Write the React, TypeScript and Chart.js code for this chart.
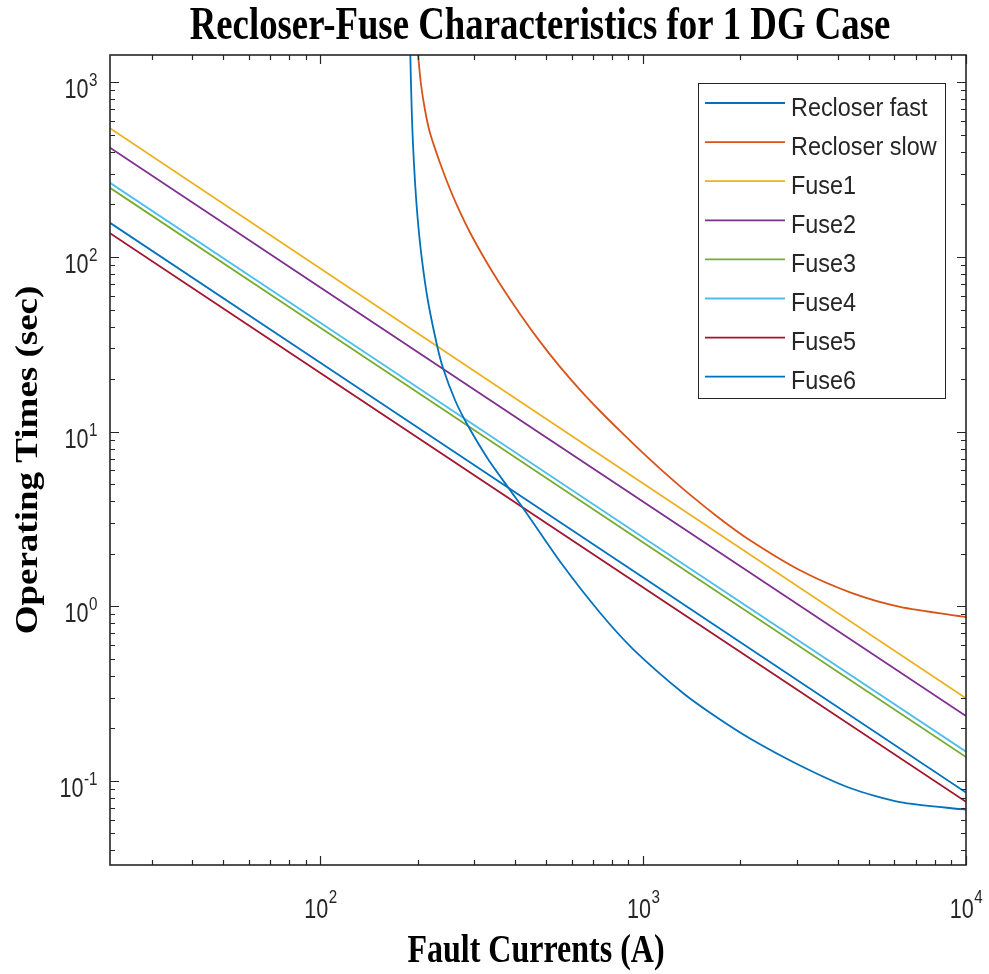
import React, { useEffect, useRef } from "react";
import { Chart, registerables } from "chart.js";

Chart.register(...registerables);

// ---- Data ----
const seriesNames = [
  "Recloser fast",
  "Recloser slow",
  "Fuse1",
  "Fuse2",
  "Fuse3",
  "Fuse4",
  "Fuse5",
  "Fuse6",
];

const seriesColors = [
  "#0072BD",
  "#D95319",
  "#EDB120",
  "#7E2F8E",
  "#77AC30",
  "#4DBEEE",
  "#A2142F",
  "#0072BD",
];

// Fault current (A) and operating time (s)
const recloserFastCurrent = [189.6, 190.9, 192.2, 193.6, 196.4, 200.6, 206.4, 215.4, 229.7, 239.8, 261.2, 284.6, 330.5, 386.7, 424.3, 552.6, 734.9, 929.9, 1328, 1681, 2142, 3060, 4372, 6246, 10000];
const recloserFastTime = [1637, 966.3, 625.4, 443.9, 268.9, 158.7, 96.2, 56.0, 31.35, 23.14, 15.18, 11.06, 6.973, 4.634, 3.654, 1.803, 0.9178, 0.5692, 0.3188, 0.2329, 0.1749, 0.1226, 0.0911, 0.0757, 0.0684];

const recloserSlowCurrent = [200.0, 201.3, 204.9, 210.9, 218.6, 234.8, 252.0, 270.6, 290.7, 323.6, 360.1, 415.3, 479.0, 552.6, 637.3, 734.9, 847.7, 977.4, 1127, 1396, 1730, 2142, 3060, 4372, 6246, 10000];
const recloserSlowTime = [1574, 1361, 979.1, 695.0, 513.2, 345.5, 245.2, 181.1, 138.2, 96.8, 70.09, 47.19, 32.79, 23.51, 17.37, 13.13, 10.09, 7.831, 6.145, 4.356, 3.173, 2.387, 1.607, 1.2025, 0.9933, 0.8684];

const fuseCurrent = [22.3, 100, 1000, 10000];
const fuse1Time = [546, 86, 5.05, 0.297];
const fuse2Time = [423, 67, 3.97, 0.235];
const fuse3Time = [249, 39.3, 2.32, 0.137];
const fuse4Time = [266, 42, 2.48, 0.147];
const fuse5Time = [137, 21.7, 1.28, 0.0759];
const fuse6Time = [157, 24.8, 1.46, 0.0857];

const seriesCurrents = [recloserFastCurrent, recloserSlowCurrent, fuseCurrent, fuseCurrent, fuseCurrent, fuseCurrent, fuseCurrent, fuseCurrent];
const seriesTimes = [recloserFastTime, recloserSlowTime, fuse1Time, fuse2Time, fuse3Time, fuse4Time, fuse5Time, fuse6Time];

// Axis ranges and tick labels
const xMin = 22.3;
const xMax = 10000;
const yMin = 0.033;
const yMax = 1435;
const xTickExponents = ["2", "3", "4"];
const yTickExponents = ["-1", "0", "1", "2", "3"];
const minorMultipliers = [2, 3, 4, 5, 6, 7, 8, 9];

const titleText = "Recloser-Fuse Characteristics for 1 DG Case";
const xTitle = "Fault Currents (A)";
const yTitle = "Operating Times (sec)";

const AXIS_COLOR = "#262626";

function drawScaledText(ctx: CanvasRenderingContext2D, text: string, x: number, y: number, sx: number) {
  ctx.save();
  ctx.translate(x, y);
  ctx.scale(sx, 1);
  ctx.fillText(text, 0, 0);
  ctx.restore();
}

const BASE_FONT = "27px 'Liberation Sans', Arial, sans-serif";
const EXP_FONT = "19px 'Liberation Sans', Arial, sans-serif";
const TICK_SX = 0.8;

function powWidths(ctx: CanvasRenderingContext2D, exp: string) {
  ctx.font = BASE_FONT;
  const bw = ctx.measureText("10").width * TICK_SX;
  ctx.font = EXP_FONT;
  const ew = ctx.measureText(exp).width * TICK_SX;
  return { bw, ew };
}

function drawPow(ctx: CanvasRenderingContext2D, exp: string, startX: number, baseY: number, expY: number) {
  const { bw } = powWidths(ctx, exp);
  ctx.textAlign = "left";
  ctx.textBaseline = "alphabetic";
  ctx.font = BASE_FONT;
  drawScaledText(ctx, "10", startX, baseY, TICK_SX);
  ctx.font = EXP_FONT;
  drawScaledText(ctx, exp, startX + bw + 0.5, expY, TICK_SX);
}

const decorPlugin = {
  id: "matlabDecor",
  afterDatasetsDraw(chart: any) {
    const ctx: CanvasRenderingContext2D = chart.ctx;
    const { left, right, top, bottom } = chart.chartArea;
    const xs = chart.scales.x;
    const ys = chart.scales.y;
    ctx.save();

    // Axes box
    ctx.strokeStyle = AXIS_COLOR;
    ctx.lineWidth = 1.6;
    ctx.strokeRect(left, top, right - left, bottom - top);

    // Ticks (inward, all four sides)
    ctx.lineWidth = 1.2;
    const tickX = (v: number, len: number) => {
      const p = Math.round(xs.getPixelForValue(v)) + 0.5;
      ctx.beginPath();
      ctx.moveTo(p, bottom);
      ctx.lineTo(p, bottom - len);
      ctx.moveTo(p, top);
      ctx.lineTo(p, top + len);
      ctx.stroke();
    };
    const tickY = (v: number, len: number) => {
      const p = Math.round(ys.getPixelForValue(v)) + 0.5;
      ctx.beginPath();
      ctx.moveTo(left, p);
      ctx.lineTo(left + len, p);
      ctx.moveTo(right, p);
      ctx.lineTo(right - len, p);
      ctx.stroke();
    };
    for (let d = Math.floor(Math.log10(xMin)); d <= Math.ceil(Math.log10(xMax)); d++) {
      const base = Math.pow(10, d);
      if (base >= xMin && base <= xMax) tickX(base, 9);
      for (const m of minorMultipliers) {
        const v = m * base;
        if (v > xMin && v < xMax) tickX(v, 5);
      }
    }
    for (let d = Math.floor(Math.log10(yMin)); d <= Math.ceil(Math.log10(yMax)); d++) {
      const base = Math.pow(10, d);
      if (base >= yMin && base <= yMax) tickY(base, 9);
      for (const m of minorMultipliers) {
        const v = m * base;
        if (v > yMin && v < yMax) tickY(v, 5);
      }
    }

    // Tick labels
    ctx.fillStyle = AXIS_COLOR;
    for (const e of xTickExponents) {
      const px = xs.getPixelForValue(Math.pow(10, Number(e)));
      const { bw, ew } = powWidths(ctx, e);
      const start = px - (bw + ew) / 2;
      drawPow(ctx, e, start, bottom + 53, bottom + 38);
    }
    for (const e of yTickExponents) {
      const py = ys.getPixelForValue(Math.pow(10, Number(e)));
      const { bw, ew } = powWidths(ctx, e);
      const start = left - 13 - (bw + ew);
      drawPow(ctx, e, start, py + 16, py + 4);
    }

    // Legend
    const bx = right - 268;
    const by = top + 28;
    const bw = 247;
    const bh = 315;
    ctx.fillStyle = "#ffffff";
    ctx.fillRect(bx, by, bw, bh);
    ctx.strokeStyle = AXIS_COLOR;
    ctx.lineWidth = 1;
    ctx.strokeRect(Math.round(bx) + 0.5, Math.round(by) + 0.5, bw, bh);
    chart.data.datasets.forEach((ds: any, i: number) => {
      const ly = by + 20 + i * 39.1;
      ctx.strokeStyle = ds.borderColor;
      ctx.lineWidth = 1.8;
      ctx.beginPath();
      ctx.moveTo(bx + 7, ly);
      ctx.lineTo(bx + 87, ly);
      ctx.stroke();
      ctx.fillStyle = AXIS_COLOR;
      ctx.font = "26px 'Liberation Sans', Arial, sans-serif";
      ctx.textAlign = "left";
      ctx.textBaseline = "alphabetic";
      drawScaledText(ctx, ds.label, bx + 93, ly + 12.5, 0.9);
    });

    // Title
    ctx.fillStyle = "#000000";
    ctx.font = "bold 46px 'Liberation Serif', 'Times New Roman', serif";
    ctx.textAlign = "center";
    ctx.textBaseline = "alphabetic";
    drawScaledText(ctx, titleText, (left + right) / 2 + 2, 39, 0.8);

    // X axis title
    ctx.font = "bold 40px 'Liberation Serif', 'Times New Roman', serif";
    drawScaledText(ctx, xTitle, (left + right) / 2 - 2, 962, 0.8);

    // Y axis title (rotated)
    ctx.font = "bold 37px 'Liberation Serif', 'Times New Roman', serif";
    ctx.save();
    ctx.translate(37, (top + bottom) / 2);
    ctx.rotate(-Math.PI / 2);
    ctx.scale(1, 0.88);
    ctx.fillText(yTitle, 0, 0);
    ctx.restore();

    ctx.restore();
  },
};

export default function App() {
  const canvasRef = useRef<HTMLCanvasElement | null>(null);

  useEffect(() => {
    document.body.style.margin = "0";
    const canvas = canvasRef.current;
    if (!canvas) return;
    const datasets = seriesNames.map((name, i) => ({
      label: name,
      data: seriesCurrents[i].map((x, j) => ({ x, y: seriesTimes[i][j] })),
      borderColor: seriesColors[i],
      backgroundColor: seriesColors[i],
      borderWidth: 1.8,
      pointRadius: 0,
      fill: false,
      tension: i < 2 ? 0.25 : 0,
    }));
    const chart = new Chart(canvas, {
      type: "line",
      data: { datasets } as any,
      options: {
        responsive: false,
        animation: false,
        events: [],
        layout: { padding: { left: 110, top: 55, right: 23, bottom: 109 } },
        elements: { line: { capBezierPoints: false } },
        plugins: {
          legend: { display: false },
          title: { display: false },
          tooltip: { enabled: false },
        },
        scales: {
          x: { type: "logarithmic", min: xMin, max: xMax, display: false, bounds: "data" },
          y: { type: "logarithmic", min: yMin, max: yMax, display: false, bounds: "data" },
        },
      } as any,
      plugins: [decorPlugin],
    });
    return () => chart.destroy();
  }, []);

  return (
    <div style={{ position: "absolute", left: 0, top: 0, width: 989, height: 974, background: "#fff" }}>
      <canvas ref={canvasRef} width={989} height={974} style={{ display: "block" }} />
    </div>
  );
}
